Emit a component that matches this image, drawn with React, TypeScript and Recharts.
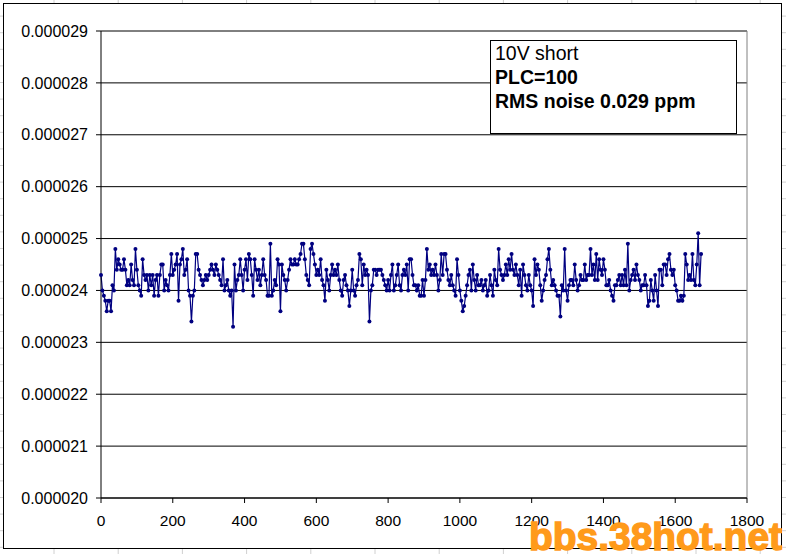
import { LineChart, Line, XAxis, YAxis, CartesianGrid, ReferenceLine } from 'recharts';

// readings in units of 1e-6 (24.3 -> 0.0000243), one every STEP samples
const STEP = 4;

const seg1 = [
  24.3, 24.0, 23.9, 23.8, 23.6, 23.8, 23.8, 23.6, 24.1, 24.0,
  24.8, 24.4, 24.6, 24.5, 24.4, 24.4, 24.6, 24.4, 24.1, 24.2,
  24.1, 24.5, 24.2, 24.1, 24.8, 24.4, 24.1, 24.0, 23.9, 24.6,
  24.3, 24.2, 24.3, 24.0, 24.3, 24.1, 24.3, 23.9, 24.2, 24.3,
  23.9, 24.3, 24.5, 24.5, 24.0, 24.2, 24.1, 24.0, 24.3, 24.7,
  24.3, 24.4, 24.5, 24.7, 23.8, 24.5, 24.6, 24.8, 24.3, 24.4,
  24.6, 24.0, 23.9, 23.4, 23.9, 24.0, 24.7, 24.7, 24.4, 24.3,
  24.2, 24.1, 24.2, 24.3, 24.2, 24.3, 24.4, 24.5, 24.4, 24.3,
  24.5, 24.4, 24.3, 24.2, 24.1, 24.6, 24.0, 24.1, 24.2, 24.0,
  23.9, 24.0, 23.3, 24.5, 24.0, 24.2, 24.3, 24.6, 24.3, 24.0,
  24.4, 24.6, 24.2, 24.7,
];

const seg2 = [
  24.6, 24.3, 23.9, 24.6, 24.4, 24.2, 24.4, 24.1, 24.3, 24.6,
  24.3, 24.2, 23.9, 23.9, 24.9, 23.9, 24.0, 24.2, 24.1, 24.6,
  24.5, 23.6, 24.5, 24.3, 24.2, 24.0, 24.2, 24.4, 24.6, 24.5,
  24.5, 24.6, 24.5, 24.5, 24.6, 24.7, 24.9, 24.9, 24.6, 24.3,
  24.2, 24.1, 24.8, 24.9, 24.7, 24.5, 24.3, 24.4, 24.3, 24.6,
  24.2, 24.1, 23.8, 24.4, 24.2, 24.0, 24.3, 24.5, 24.3, 24.4,
  24.3, 24.5, 24.2, 24.0, 23.9, 24.2, 24.3, 24.1, 24.0, 23.7,
  24.0, 24.4, 24.0, 23.9, 24.1, 24.2, 24.7, 24.6, 24.1, 24.5,
  24.3, 24.4, 24.3, 23.4, 24.0, 24.1, 24.4, 24.4, 24.3, 24.4,
  24.4, 24.4, 24.3, 24.2, 24.1, 24.0, 24.2, 24.0, 24.3, 24.5,
  24.0, 24.1, 24.3, 24.5, 24.1, 24.0,
];

const seg3 = [
  24.3, 24.4, 24.3, 24.5, 24.0, 24.6, 24.6, 24.3, 24.1, 24.1,
  24.0, 24.1, 23.9, 23.9, 24.2, 23.9, 24.2, 24.8, 24.4, 24.5,
  24.3, 24.4, 24.3, 24.5, 24.3, 24.0, 24.2, 24.7, 24.3, 24.7,
  24.7, 24.4, 24.2, 24.1, 24.3, 24.1, 24.0, 23.9, 24.6, 24.3,
  24.0, 23.8, 23.6, 23.7, 23.9, 24.1, 24.3, 24.4, 24.0, 24.5,
  24.2, 24.0, 24.3, 24.1, 24.1, 24.2, 24.0, 24.1, 24.2, 23.9,
  24.0, 24.3, 24.1, 23.9, 24.4, 24.2, 24.1, 24.8, 24.4, 24.3,
  24.2, 24.3, 24.5, 24.3, 24.6, 24.4, 24.7, 24.4, 24.3, 24.5,
  24.3, 24.1, 24.4, 23.9, 24.5, 24.3, 24.1, 24.0, 24.3, 24.1,
  24.0, 23.7, 24.6, 24.3, 24.5, 24.4, 24.1, 23.8, 24.0, 24.2,
  24.3, 24.6, 24.8, 24.4,
];

const seg4 = [
  24.1, 24.2, 24.1, 24.0, 23.9, 23.9, 23.5, 24.1, 24.0, 24.8,
  24.0, 23.8, 24.1, 24.2, 24.2, 24.1, 24.5, 24.2, 24.0, 24.1,
  24.3, 24.2, 24.2, 24.5, 24.2, 24.3, 24.3, 24.8, 24.3, 24.5,
  24.2, 24.7, 24.2, 24.6, 24.4, 24.3, 24.6, 24.4, 24.1, 24.1,
  24.2, 24.0, 23.9, 23.8, 24.1, 24.1, 24.2, 24.3, 24.1, 24.3,
  24.1, 24.4, 24.1, 24.9, 24.0, 24.2, 24.3, 24.4, 24.2, 24.5,
  24.3, 24.2, 24.0, 24.1, 24.1, 24.3, 24.1, 23.7, 23.8, 24.2,
  24.0, 23.8, 24.3, 24.0, 23.7, 24.4, 24.4, 24.1, 24.5, 24.5,
  24.3, 24.6, 24.7, 24.4, 24.3, 24.4, 24.1, 24.0, 23.8, 23.8,
  23.9, 23.8, 23.9, 24.7, 24.5, 24.2, 24.3, 24.2, 24.7, 24.2,
  24.1, 24.5, 25.1, 24.1, 24.7,
];

const xTicks = [0, 200, 400, 600, 800, 1000, 1200, 1400, 1600, 1800];
const yTicks = [20, 21, 22, 23, 24, 25, 26, 27, 28, 29];
const noteLines = ['10V short', 'PLC=100', 'RMS noise 0.029 ppm'];
const watermark = 'bbs.38hot.net';

const readings = [...seg1, ...seg2, ...seg3, ...seg4];
const data = readings.map((v, i) => ({ n: i * STEP, v }));

const FONT = '"Liberation Sans", Arial, sans-serif';

// faint spreadsheet cell lines peeking out around the chart object
const colLines = Array.from({ length: 13 }, (_, k) => 54 + k * 64.2);
const rowLines = Array.from({ length: 34 }, (_, k) => 547.3 - k * 16.6);

export default function App() {
  return (
    <div style={{ position: 'absolute', left: 0, top: 0, width: 786, height: 554, background: '#fff', overflow: 'hidden' }}>
      <svg width={786} height={554} style={{ position: 'absolute', left: 0, top: 0 }}>
        {colLines.map((x) => (
          <line key={'c' + x} x1={x} x2={x} y1={0} y2={554} stroke="#d0d0d0" />
        ))}
        {rowLines.map((y) => (
          <line key={'r' + y} x1={0} x2={786} y1={y} y2={y} stroke="#d0d0d0" />
        ))}
        <rect x={3.5} y={3.5} width={778} height={545} fill="#fff" stroke="#000" />
      </svg>

      <div style={{ position: 'absolute', left: 0, top: 0 }}>
        <LineChart width={786} height={554} data={data} margin={{ top: 31, right: 39, bottom: 0, left: 0 }}>
          <CartesianGrid horizontal vertical={false} stroke="#000" />
          <XAxis
            dataKey="n"
            type="number"
            domain={[0, 1800]}
            ticks={xTicks}
            interval={0}
            height={56}
            stroke="#000"
            tickSize={5}
            tickMargin={12}
            tick={{ fill: '#000', fontSize: 15.5, fontFamily: FONT }}
          />
          <YAxis
            type="number"
            domain={[20, 29]}
            ticks={yTicks}
            interval={0}
            width={101}
            stroke="#000"
            tickSize={5}
            tickMargin={8}
            tick={{ fill: '#000', fontSize: 16, fontFamily: FONT }}
            tickFormatter={(v: number) => (v / 1e6).toFixed(6)}
          />
          <ReferenceLine y={29} stroke="#808080" />
          <ReferenceLine x={1800} stroke="#808080" />
          <Line
            type="linear"
            dataKey="v"
            stroke="#000080"
            strokeWidth={1.2}
            dot={{ r: 2, fill: '#000080', stroke: '#000080', strokeWidth: 0 }}
            activeDot={false}
            isAnimationActive={false}
          />
        </LineChart>
      </div>

      <svg width={786} height={554} style={{ position: 'absolute', left: 0, top: 0, pointerEvents: 'none' }}>
        <rect x={490.5} y={40.5} width={246} height={93} fill="#fff" stroke="#000" />
        {noteLines.map((t, i) => (
          <text
            key={t}
            x={495}
            y={60 + i * 24}
            fontFamily={FONT}
            fontSize={19.5}
            fontWeight={i === 0 ? 'normal' : 'bold'}
            fill="#000"
          >
            {t}
          </text>
        ))}
        <text
          x={529}
          y={550}
          fontFamily={FONT}
          fontSize={39}
          fontWeight="bold"
          fill="#ff9a1a"
          stroke="#ff9a1a"
          strokeWidth={1.4}
          textLength={253}
          lengthAdjust="spacingAndGlyphs"
        >
          {watermark}
        </text>
      </svg>
    </div>
  );
}
